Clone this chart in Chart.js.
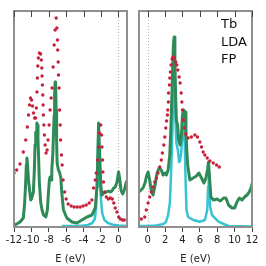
<!DOCTYPE html>
<html>
<head>
<meta charset="utf-8">
<script src="https://cdn.jsdelivr.net/npm/chart.js@4.4.0/dist/chart.umd.min.js"></script>
<style>
  body { margin: 0; background: #fff; }
  #wrap { position: relative; width: 266px; height: 266px; background: #fff; }
  canvas { position: absolute; top: 0; }
  #izq { left: 0; }
  #der { left: 133px; }
</style>
</head>
<body>
<div id="wrap">
  <canvas id="izq" width="133" height="266"></canvas>
  <canvas id="der" width="133" height="266"></canvas>
</div>
<script>
// Ticks de cada panel
const ticksIzq = [-12, -10, -8, -6, -4, -2, 0];
const ticksDer = [0, 2, 4, 6, 8, 10, 12];
const etiquetaEje = "E (eV)";
const rotulos = ["Tb", "LDA", "FP"];

// Panel izquierdo (banda de valencia): [E, DOS]
const totalIzq = [[-12.00,2],[-11.69,3],[-11.31,5],[-10.93,9],[-10.79,22],[-10.67,42],[-10.58,62],[-10.52,69],
  [-10.44,62],[-10.33,47],[-10.21,37],[-10.07,27],[-9.96,29],[-9.77,35],[-9.66,57],[-9.58,82],[-9.50,95],
  [-9.44,89],[-9.37,104],[-9.30,102],[-9.24,87],[-9.18,72],[-9.08,44],[-8.92,24],[-8.77,17],[-8.60,12],
  [-8.34,10],[-8.16,17],[-8.04,34],[-7.93,47],[-7.85,50],[-7.73,47],[-7.65,57],[-7.53,74],[-7.47,90],
  [-7.38,112],[-7.33,132],[-7.27,145],[-7.21,143],[-7.15,117],[-7.10,87],[-7.04,64],[-6.89,57],[-6.77,55],
  [-6.61,49],[-6.50,34],[-6.31,17],[-5.92,9],[-5.34,5],[-4.77,4],[-4.19,7],[-3.61,10],[-3.03,12],[-2.65,19],
  [-2.46,40],[-2.34,74],[-2.27,104],[-2.16,74],[-2.00,40],[-1.88,32],[-1.70,34],[-1.38,35],[-1.12,36],
  [-0.92,35],[-0.73,36],[-0.54,39],[-0.35,40],[-0.15,45],[0.03,55],[0.15,49],[0.31,37],[0.50,33],[0.69,37],
  [0.92,45],[1.08,47]];
const fIzq = [[-6.5,1],[-5.0,1],[-4.0,1.5],[-3.5,2],[-3.0,4],[-2.7,8],[-2.55,20],[-2.45,40],[-2.38,70],
  [-2.3,95],[-2.22,80],[-2.12,50],[-2.0,28],[-1.85,14],[-1.6,7],[-1.2,4],[-0.7,2.5],[0.0,1.5],[1.0,1]];
const expIzq = [[-12.0,54],[-11.69,57],[-11.31,63],[-10.93,75],[-10.65,87],[-10.47,100],[-10.33,112],
  [-10.21,122],[-10.10,129],[-9.98,127],[-9.87,121],[-9.75,114],[-9.63,109],[-9.52,109],[-9.43,119],
  [-9.36,135],[-9.31,149],[-9.26,161],[-9.20,169],[-9.08,174],[-8.94,173],[-8.86,167],[-8.80,159],
  [-8.77,151],[-8.73,142],[-8.69,132],[-8.65,122],[-8.62,112],[-8.56,102],[-8.50,92],[-8.42,82],[-8.31,74],
  [-8.19,77],[-8.08,87],[-7.96,102],[-7.85,117],[-7.73,129],[-7.62,139],[-7.50,160],[-7.38,182],[-7.27,197],
  [-7.15,209],[-7.07,199],[-7.00,187],[-6.97,177],[-6.92,165],[-6.88,152],[-6.81,139],[-6.75,117],
  [-6.69,102],[-6.64,87],[-6.54,72],[-6.46,62],[-6.35,47],[-6.17,35],[-6.00,28],[-5.77,23],[-5.42,21],
  [-5.08,20],[-4.73,20],[-4.38,20],[-4.04,21],[-3.69,22],[-3.35,24],[-3.04,27],[-2.85,39],[-2.65,47],
  [-2.54,54],[-2.39,67],[-2.27,80],[-2.16,94],[-2.02,102],[-1.93,92],[-1.88,80],[-1.82,67],[-1.77,55],
  [-1.70,45],[-1.56,35],[-1.38,30],[-1.15,28],[-0.92,29],[-0.69,28],[-0.52,24],[-0.35,19],[-0.15,15],
  [0.04,10],[0.23,8],[0.46,7],[0.69,7]];

// Panel derecho (banda de conducción): [E, DOS]
const totalDer = [[-1.00,35],[-0.77,37],[-0.54,39],[-0.31,44],[-0.13,51],[0.04,55],[0.23,47],[0.42,36],
  [0.62,32],[0.81,40],[1.08,54],[1.31,59],[1.57,57],[1.77,52],[1.97,54],[2.15,52],[2.35,57],[2.54,72],
  [2.66,97],[2.77,127],[2.87,157],[2.96,182],[3.04,190],[3.13,167],[3.21,132],[3.30,107],[3.44,102],
  [3.56,87],[3.73,82],[3.88,92],[4.00,112],[4.13,117],[4.31,115],[4.40,97],[4.48,79],[4.60,62],[4.85,47],
  [5.23,49],[5.61,51],[5.89,54],[6.19,49],[6.47,44],[6.70,49],[6.88,57],[7.00,65],[7.11,50],[7.27,30],
  [7.57,27],[7.97,28],[8.35,26],[8.73,29],[9.00,29],[9.30,22],[9.70,19],[10.00,19],[10.27,25],[10.54,29],
  [10.85,27],[11.15,30],[11.43,32],[11.69,35],[11.92,40],[12.04,44]];
const fDer = [[-1.0,1],[0.0,1],[1.0,1.5],[1.8,3],[2.1,5],[2.35,12],[2.55,24],[2.66,47],[2.77,74],[2.84,97],
  [2.92,130],[3.0,160],[3.1,140],[3.2,105],[3.3,84],[3.47,77],[3.62,65],[3.72,66],[3.85,74],[4.0,94],
  [4.15,110],[4.27,80],[4.38,40],[4.46,17],[4.65,10],[5.23,7],[6.0,5.3],[6.58,7],[6.85,17],[6.95,40],
  [7.02,50],[7.1,36],[7.19,20],[7.39,12],[7.77,8.7],[8.15,5.3],[8.73,3],[9.3,1],[12.0,0.5]];
const expDer = [[-1.05,8],[-0.73,8],[-0.34,10],[-0.16,17],[0.04,24],[0.23,30],[0.42,35],[0.62,40],[0.81,45],
  [1.00,49],[1.19,54],[1.39,60],[1.57,67],[1.69,74],[1.85,82],[1.97,90],[2.08,99],[2.17,106],[2.27,112],
  [2.31,117],[2.38,125],[2.40,134],[2.50,142],[2.54,149],[2.62,155],[2.69,162],[2.81,168],[2.92,170],
  [3.07,169],[3.23,165],[3.35,162],[3.47,157],[3.62,150],[3.73,144],[3.85,134],[3.93,125],[4.00,117],
  [4.11,107],[4.23,99],[4.37,93],[4.65,89],[5.03,90],[5.43,92],[5.73,90],[6.00,85],[6.19,80],[6.38,75],
  [6.58,72],[6.85,69],[7.16,66],[7.54,64],[7.92,62],[8.23,60]];

const VERDE = "#2e8b57";
const CIAN = "#36c3d3";
const ROJO = "#c8203c";
const FUENTE = "'DejaVu Sans', sans-serif";

// Marco gris, ticks superiores hacia adentro y línea de Fermi punteada
const marco = {
  id: "marco",
  beforeDatasetsDraw(chart) {
    const { ctx, chartArea: a, scales: { x } } = chart;
    const xf = Math.round(x.getPixelForValue(0)) + 0.5;
    ctx.save();
    ctx.strokeStyle = "#b0b0b0";
    ctx.lineWidth = 1;
    ctx.setLineDash([1, 2]);
    ctx.beginPath();
    ctx.moveTo(xf, a.top);
    ctx.lineTo(xf, a.bottom);
    ctx.stroke();
    ctx.restore();
  },
  afterDatasetsDraw(chart) {
    const { ctx, chartArea: a, scales: { x } } = chart;
    ctx.save();
    ctx.strokeStyle = "#8f8f8f";
    ctx.lineWidth = 2;
    ctx.strokeRect(a.left, a.top, a.right - a.left, a.bottom - a.top);
    ctx.strokeStyle = "#444";
    ctx.lineWidth = 1;
    x.ticks.forEach(t => {
      const px = Math.round(x.getPixelForValue(t.value)) + 0.5;
      ctx.beginPath();
      ctx.moveTo(px, a.top);
      ctx.lineTo(px, a.top + 6);
      ctx.stroke();
    });
    const lineas = chart.options.plugins.marco.rotulos || [];
    ctx.fillStyle = "#111";
    ctx.font = "13px " + FUENTE;
    ctx.textBaseline = "alphabetic";
    lineas.forEach((txt, i) => {
      ctx.fillText(txt, a.right - 31, a.top + 17 + i * 17.5);
    });
    ctx.restore();
  }
};

function aPuntos(pares) {
  return pares.map(p => ({ x: p[0], y: p[1] }));
}

function crearPanel(id, xmin, xmax, ticks, total, f, exp, pad, rot) {
  const ctx = document.getElementById(id).getContext("2d");
  return new Chart(ctx, {
    type: "scatter",
    data: {
      datasets: [
        { data: aPuntos(exp), showLine: false, pointRadius: 1.7, pointBackgroundColor: ROJO,
          pointBorderWidth: 0, order: 1 },
        { data: aPuntos(total), showLine: true, pointRadius: 0, borderColor: VERDE, borderWidth: 3,
          borderJoinStyle: "round", order: 2 },
        { data: aPuntos(f), showLine: true, pointRadius: 0, borderColor: CIAN, borderWidth: 2.5,
          borderJoinStyle: "round", order: 3 }
      ]
    },
    options: {
      responsive: false,
      animation: false,
      devicePixelRatio: 1,
      layout: { padding: pad },
      plugins: { legend: { display: false }, tooltip: { enabled: false }, marco: { rotulos: rot } },
      scales: {
        x: {
          type: "linear", min: xmin, max: xmax,
          afterBuildTicks: s => { s.ticks = ticks.map(v => ({ value: v })); },
          afterFit: s => { s.height = 39; },
          ticks: { font: { family: FUENTE, size: 10 }, color: "#222", padding: 2, maxRotation: 0, autoSkip: false },
          grid: { drawOnChartArea: false, drawTicks: true, tickLength: 5, color: "#444", lineWidth: 1 },
          border: { display: false },
          title: { display: true, text: etiquetaEje, font: { family: FUENTE, size: 10 }, color: "#222",
            padding: { top: 0, bottom: 1 } }
        },
        y: { display: false, min: 0, max: 216 }
      }
    },
    plugins: [marco]
  });
}

crearPanel("izq", -12, 1, ticksIzq, totalIzq, fIzq, expIzq, { left: 14, right: 6, top: 11, bottom: 0 }, []);
crearPanel("der", -1, 12, ticksDer, totalDer, fDer, expDer, { left: 6, right: 14, top: 11, bottom: 0 }, rotulos);
</script>
</body>
</html>
